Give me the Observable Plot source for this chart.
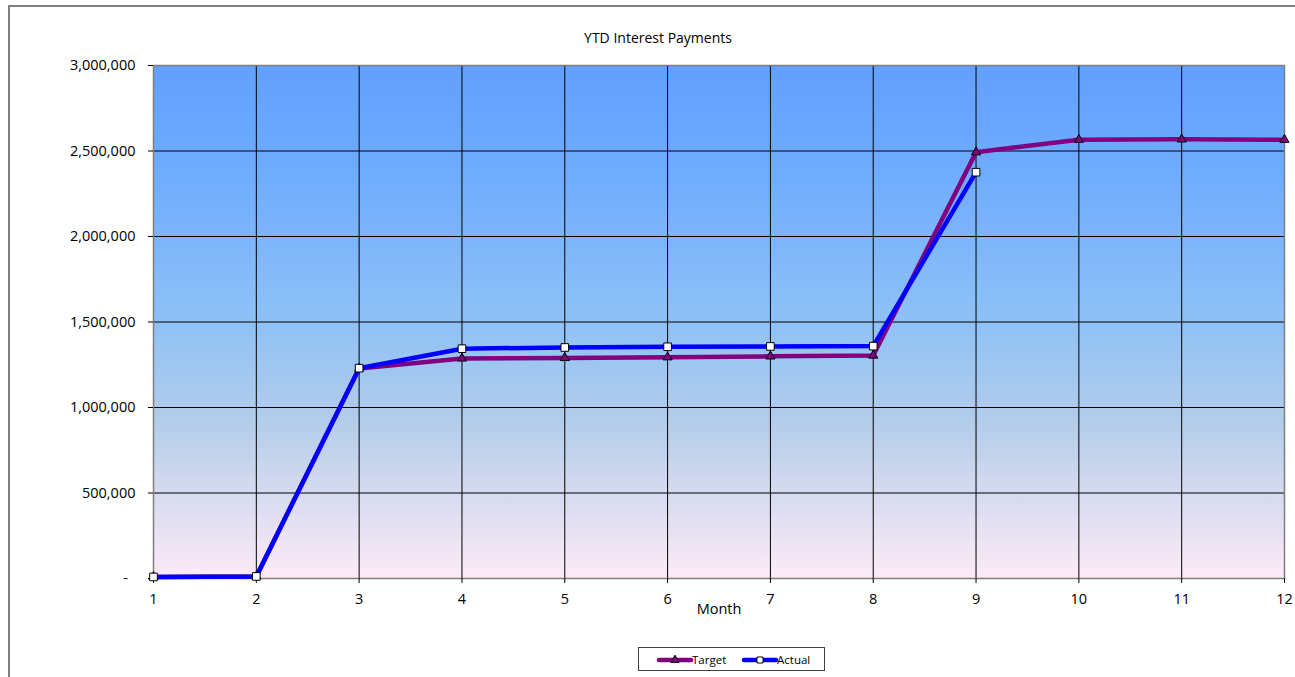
<!DOCTYPE html>
<html>
<head>
<meta charset="utf-8">
<script src="https://cdn.jsdelivr.net/npm/d3@7"></script>
<script src="https://cdn.jsdelivr.net/npm/@observablehq/plot@0.6"></script>
<style>
  html, body { margin: 0; padding: 0; background: #fff; }
  body { width: 1295px; height: 677px; overflow: hidden; position: relative; font-family: "Open Sans", "Noto Sans", sans-serif; }
  #border { position: absolute; left: 8px; top: 5px; width: 1400px; height: 800px; border-left: 2px solid #7f7f7f; border-top: 2px solid #7f7f7f; box-sizing: border-box; }
  #chart { position: absolute; left: 0; top: 0; }
  #title { position: absolute; left: 458px; top: 28px; width: 400px; text-align: center; font-size: 14px; color: #000; }
  #legend { position: absolute; left: 638px; top: 647px; width: 187px; height: 24px; border: 1px solid #404040; box-sizing: border-box; background: #fff; }
  #legend svg { position: absolute; left: 0; top: 0; }
</style>
</head>
<body>
<div id="border"></div>
<div id="chart"></div>
<div id="title">YTD Interest Payments</div>
<div id="legend"></div>
<script>
// ---- data ----
const months = [1, 2, 3, 4, 5, 6, 7, 8, 9, 10, 11, 12];
const targetValues = [9000, 12000, 1228000, 1287000, 1290000, 1294000, 1299000, 1304000, 2493000, 2566000, 2568000, 2566000];
const actualValues = [9000, 12000, 1230000, 1344000, 1351000, 1355000, 1357000, 1359000, 2376000, null, null, null];
const yTicks = [0, 500000, 1000000, 1500000, 2000000, 2500000, 3000000];
const seriesNames = ["Target", "Actual"];
const seriesColors = ["#800080", "#0000ff"];

const target = months.map((m, i) => ({month: m, value: targetValues[i]}));
const actual = months.map((m, i) => ({month: m, value: actualValues[i]})).filter(d => d.value != null);

const gradientMark = (index, scales, values, dim) => {
  const ns = "http://www.w3.org/2000/svg";
  const g = document.createElementNS(ns, "g");
  const defs = document.createElementNS(ns, "defs");
  const lg = document.createElementNS(ns, "linearGradient");
  lg.setAttribute("id", "bgGrad");
  lg.setAttribute("x1", "0"); lg.setAttribute("y1", "0");
  lg.setAttribute("x2", "0"); lg.setAttribute("y2", "1");
  [["0%", "#62a0ff"], ["20%", "#6eabff"], ["50%", "#8ec1f6"], ["70%", "#b4cdea"], ["85%", "#d9dcf0"], ["100%", "#fdeaf7"]].forEach(([o, c]) => {
    const s = document.createElementNS(ns, "stop");
    s.setAttribute("offset", o); s.setAttribute("stop-color", c);
    lg.appendChild(s);
  });
  defs.appendChild(lg);
  g.appendChild(defs);
  const r = document.createElementNS(ns, "rect");
  r.setAttribute("x", dim.marginLeft);
  r.setAttribute("y", dim.marginTop);
  r.setAttribute("width", dim.width - dim.marginLeft - dim.marginRight);
  r.setAttribute("height", dim.height - dim.marginTop - dim.marginBottom);
  r.setAttribute("fill", "url(#bgGrad)");
  g.appendChild(r);
  return g;
};

const yFmt = d => d === 0 ? "-\u00a0\u00a0" : d3.format(",")(d);

const plot = Plot.plot({
  width: 1295,
  height: 677,
  marginLeft: 153,
  marginTop: 65,
  marginRight: 11,
  marginBottom: 99,
  style: {fontFamily: "'Open Sans', sans-serif", fontSize: "14.5px", color: "#000", background: "transparent"},
  x: {domain: [1, 12], type: "linear"},
  y: {domain: [0, 3000000]},
  marks: [
    gradientMark,
    Plot.gridX(months, {stroke: "#000", strokeOpacity: 1, strokeWidth: 1}),
    Plot.gridY(yTicks, {stroke: "#000", strokeOpacity: 1, strokeWidth: 1}),
    Plot.frame({stroke: "#7f7f7f", strokeWidth: 1.5}),
    Plot.axisX({ticks: months, tickFormat: d => String(d), tickSize: 5, tickPadding: 10, label: "Month", labelAnchor: "center", labelArrow: false, labelOffset: 35, fontSize: 14.5, stroke: "#000"}),
    Plot.axisY({ticks: yTicks, tickFormat: yFmt, tickSize: 5, tickPadding: 13, label: null, fontSize: 14.5}),
    Plot.line(target, {x: "month", y: "value", stroke: seriesColors[0], strokeWidth: 4.5, curve: "linear"}),
    Plot.dot(target, {x: "month", y: "value", symbol: "triangle", r: 3.4, fill: seriesColors[0], stroke: "#000", strokeWidth: 1}),
    Plot.line(actual, {x: "month", y: "value", stroke: seriesColors[1], strokeWidth: 4.5, curve: "linear"}),
    Plot.dot(actual, {x: "month", y: "value", symbol: "square", r: 4.3, fill: "#fff", stroke: "#000", strokeWidth: 1})
  ]
});
document.getElementById("chart").appendChild(plot);

// ---- legend ----
const leg = d3.select("#legend").append("svg").attr("width", 187).attr("height", 24);
const items = [
  {name: seriesNames[0], color: seriesColors[0], x0: 20, sym: d3.symbolTriangle, fill: seriesColors[0]},
  {name: seriesNames[1], color: seriesColors[1], x0: 105, sym: d3.symbolSquare, fill: "#fff"}
];
items.forEach(it => {
  const g = leg.append("g");
  g.append("line").attr("x1", it.x0).attr("x2", it.x0 + 32).attr("y1", 12).attr("y2", 12)
    .attr("stroke", it.color).attr("stroke-width", 4.5).attr("stroke-linecap", "round");
  g.append("path").attr("d", d3.symbol(it.sym, it.sym === d3.symbolSquare ? 36 : 30)())
    .attr("transform", `translate(${it.x0 + 16},12)`)
    .attr("fill", it.fill).attr("stroke", "#000").attr("stroke-width", 1);
  g.append("text").attr("x", it.x0 + 33).attr("y", 12).attr("dy", "0.35em")
    .attr("font-size", 11.5).attr("font-family", "'Open Sans', sans-serif").text(it.name);
});
</script>
</body>
</html>
